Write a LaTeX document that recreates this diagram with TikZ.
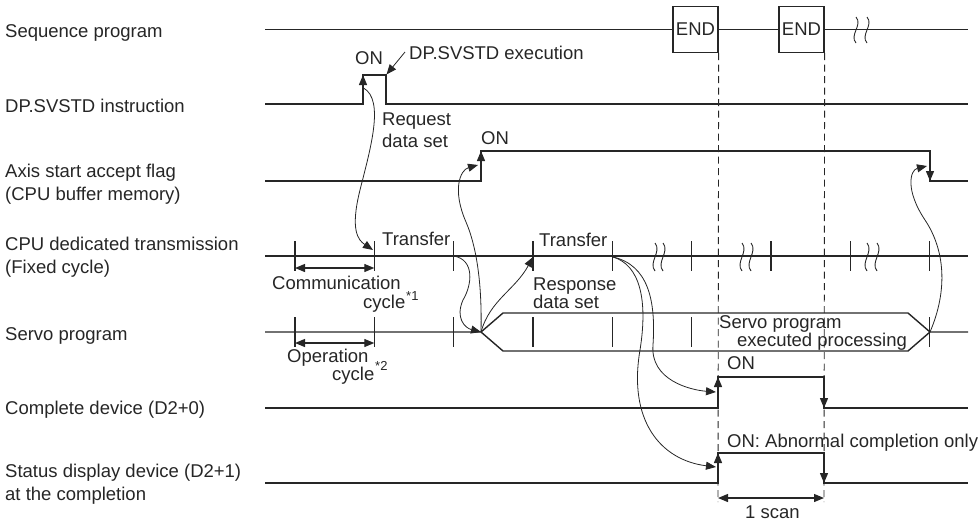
\documentclass[tikz,border=0pt]{standalone}
\usepackage{fontspec}
\setmainfont{Liberation Sans}
\usetikzlibrary{arrows.meta}
\begin{document}
\begin{tikzpicture}[x=1pt,y=-1pt,
  font=\fontsize{18.5}{20}\selectfont,
  txt/.style={inner sep=0pt, text=black!85, anchor=base west},
  sup/.style={inner sep=0pt, text=black!85, anchor=base west, font=\fontsize{13}{14}\selectfont},
  sig/.style={line width=1.4pt, draw=black!85},
  tk/.style={line width=1.2pt, draw=black!85},
  crv/.style={line width=0.8pt, draw=black!85, -{Triangle[length=10pt,width=8pt]}},
  edgetip/.style={line width=1.4pt, draw=black!85, -{Triangle[length=10pt,width=8pt]}},
  dimarrow/.style={line width=1.2pt, draw=black!85, {Triangle[length=10pt,width=8pt]}-{Triangle[length=10pt,width=8pt]}},
  dsh/.style={line width=0.9pt, draw=black!85, dash pattern=on 7pt off 4.5pt},
  brk/.style={line width=0.9pt, draw=black!85},
  endbox/.style={draw=black!85, line width=1.3pt, minimum width=45pt, minimum height=46pt, inner sep=0pt, text=black!85}
]
\useasboundingbox (0,0) rectangle (978,520);

% ---------- left labels ----------
\node[txt] (lseq) at (5,37.5) {Sequence program};
\node[txt] (ldp) at (5,112) {DP.SVSTD instruction};
\node[txt] (lax1) at (5,177) {Axis start accept flag};
\node[txt] (lax2) at (5,200) {(CPU buffer memory)};
\node[txt] (lcpu1) at (5,250) {CPU dedicated transmission};
\node[txt] (lcpu2) at (5,273) {(Fixed cycle)};
\node[txt] (lsv) at (5,340) {Servo program};
\node[txt] (lcd) at (5,414) {Complete device (D2+0)};
\node[txt] (lst1) at (5,477) {Status display device (D2+1)};
\node[txt] (lst2) at (5,500) {at the completion};

% ---------- sequence program ----------
\node[endbox] (end1) at (695.5,29.5) {END};
\node[endbox] (end2) at (801.5,29.5) {END};
\draw[sig] (265,29.5) -- (end1.west);
\draw[sig] (end1.east) -- (end2.west);
\draw[sig] (end2.east) -- (968,29.5);
\foreach \x in {856,867} {
  \draw[brk] (\x,17) .. controls (\x+7,25) and (\x-7,35) .. (\x,43);
}

% ---------- dashed scan lines ----------
\draw[dsh] (end1.south east) -- (718,502);
\draw[dsh] (end2.south east) -- (824,502);

% ---------- DP.SVSTD instruction ----------
\draw[sig] (265,104) -- (363,104) -- (363,75) -- (386,75) -- (386,104) -- (968,104);
\draw[edgetip] (363,92) -- (363,75);
\node[txt] (onDP) at (355,64) {ON};
\node[txt] (exec) at (409,59) {DP.SVSTD execution};
\coordinate (execFrom) at (405,52);
\coordinate (execTo) at (386.5,74.5);
\draw[line width=0.8pt, draw=black!85, -{Triangle[length=10pt,width=8pt]}] (execFrom) -- (execTo);
\node[txt] (req1) at (382,125) {Request};
\node[txt] (req2) at (382,147) {data set};

% ---------- axis start accept flag ----------
\draw[sig] (265,181) -- (481,181) -- (481,151) -- (930,151) -- (930,181) -- (968,181);
\draw[edgetip] (481,168) -- (481,151);
\draw[edgetip] (930,164) -- (930,181);
\node[txt] (onAx) at (481,144) {ON};

% ---------- CPU dedicated transmission ----------
\draw[sig] (265,256) -- (968,256);
\foreach \x in {295,374.3,453.7,533,612.3,691.7,771,850.3,929.7} {
  \draw[tk] (\x,241) -- (\x,271);
}
\foreach \x in {655,663,742,751,867,877} {
  \draw[brk] (\x,243) .. controls (\x+7,252) and (\x-7,262) .. (\x,271);
}
\node[txt] (tr1) at (382,245) {Transfer};
\node[txt] (tr2) at (539,246) {Transfer};
\draw[dimarrow] (295,268) -- (374.3,268);
\node[txt] (comm) at (272,289) {Communication};
\node[txt] (commc) at (363,308) {cycle};
\node[sup] (comms) at (406,300) {*1};
\node[txt] (resp1) at (533,290) {Response};
\node[txt] (resp2) at (533,308) {data set};

% ---------- servo program ----------
\draw[sig] (265,332) -- (481,332) -- (503,313) -- (908,313) -- (930,332) -- (968,332);
\draw[sig] (481,332) -- (503,351) -- (908,351) -- (930,332);
\foreach \x in {295,374.3,453.7,533,612.3,691.7,929.7} {
  \draw[tk] (\x,317) -- (\x,347);
}
\draw[dimarrow] (295,343) -- (374.3,343);
\node[txt] (op1) at (287,362) {Operation};
\node[txt] (op2) at (332,380) {cycle};
\node[sup] (op3) at (375,370) {*2};
\node[txt] (svt1) at (719,328) {Servo program};
\node[txt] (svt2) at (737,346) {executed processing};

% ---------- complete device ----------
\draw[sig] (265,408) -- (718,408) -- (718,377) -- (824,377) -- (824,408) -- (968,408);
\draw[edgetip] (718,394) -- (718,377);
\draw[edgetip] (824,391) -- (824,408);
\node[txt] (onCD) at (727,369) {ON};

% ---------- status display device ----------
\draw[sig] (265,483) -- (718,483) -- (718,453) -- (824,453) -- (824,483) -- (968,483);
\draw[edgetip] (718,470) -- (718,453);
\draw[edgetip] (824,466) -- (824,483);
\node[txt] (onST) at (727,447) {ON: Abnormal completion only};
\draw[dimarrow] (718,498) -- (824,498);
\node[txt] (scan) at (745,518) {1 scan};

% ---------- curved connectors ----------
\coordinate (dpRise) at (363.5,88);
\coordinate (tick374) at (373,250);
\coordinate (tick454) at (454,256);
\coordinate (tick533) at (533,257);
\coordinate (tick613) at (613,257);
\coordinate (svStart) at (481,332);
\coordinate (svEnd) at (930,332);
\coordinate (axRise) at (478,165);
\coordinate (axFall) at (927,166);
\coordinate (cdRise) at (716,392);
\coordinate (stRise) at (716,467);

\draw[crv] (dpRise) .. controls (385,100) and (370,150) .. (360,190)
                    .. controls (350,230) and (358,240) .. (tick374);
\draw[crv] (tick454) .. controls (475,260) and (472,285) .. (463,300)
                     .. controls (455,318) and (465,328) .. (svStart);
\draw[crv] (svStart) .. controls (482,290) and (478,250) .. (466,222)
                     .. controls (452,190) and (460,170) .. (axRise);
\draw[crv] (svStart) .. controls (490,300) and (515,290) .. (tick533);
\draw[crv] (svEnd) .. controls (948,290) and (945,250) .. (925,220)
                   .. controls (905,190) and (910,170) .. (axFall);
\draw[crv] (tick613) .. controls (648,265) and (656,300) .. (653,345)
                     .. controls (650,380) and (690,390) .. (cdRise);
\draw[crv] (tick613) .. controls (640,265) and (648,300) .. (640,350)
                     .. controls (628,420) and (660,460) .. (stRise);
\end{tikzpicture}
\end{document}
